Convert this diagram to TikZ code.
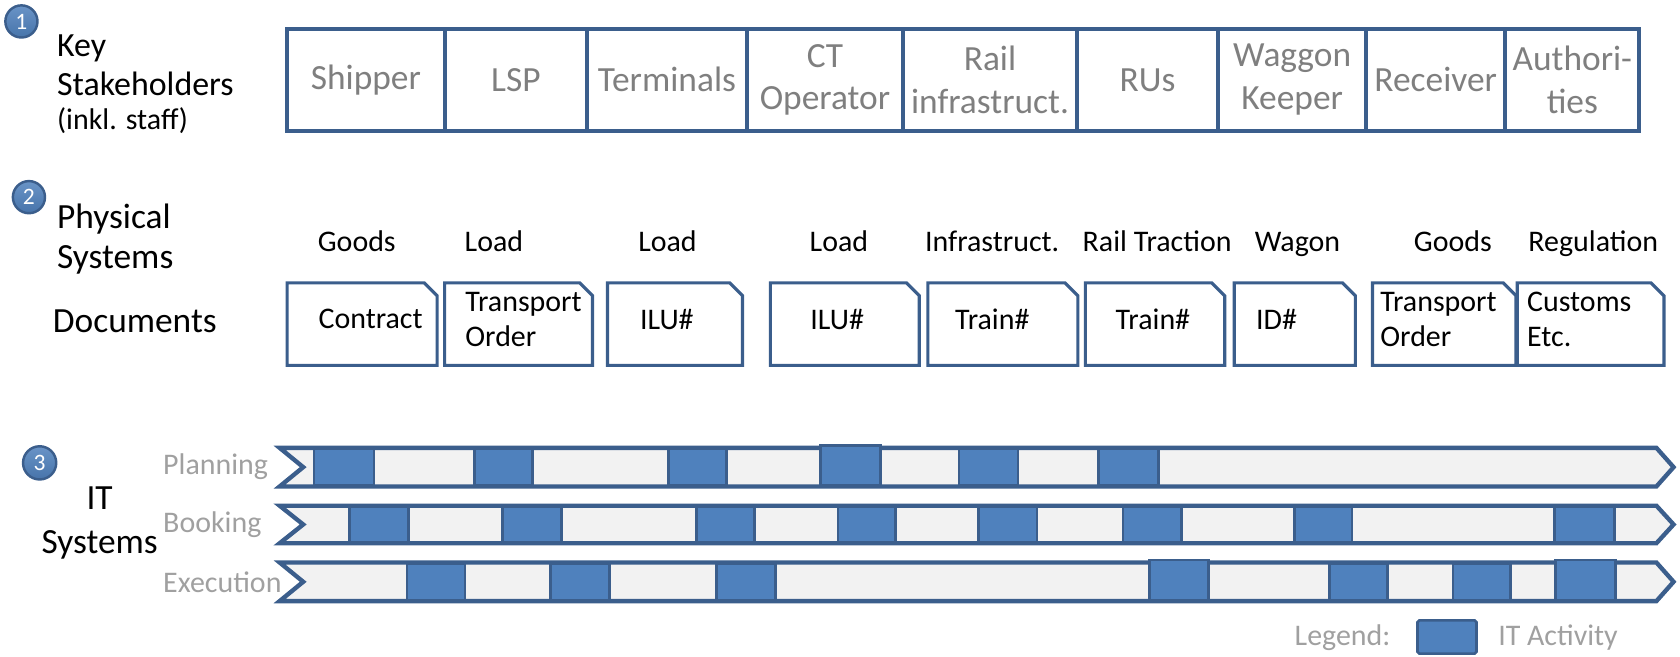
\documentclass[tikz,border=0pt]{standalone}
\usepackage{fontspec}
\setmainfont{Carlito}
\usepackage{tikz}
\usetikzlibrary{arrows.meta, positioning}
\usepackage{xcolor}

\definecolor{frameblue}{HTML}{3B5E8C}
\definecolor{itblue}{HTML}{4F81BD}
\definecolor{barfill}{HTML}{F2F2F2}
\definecolor{stakegray}{HTML}{7F7F7F}
\definecolor{rowgray}{HTML}{A0A0A0}

\newcommand{\headfont}{\fontsize{18.8}{21.6}\selectfont}
\newcommand{\boxfont}{\fontsize{18.8}{22.8}\selectfont}
\newcommand{\docfont}{\fontsize{15.9}{18.8}\selectfont}

\tikzset{
  stakebox/.style={draw=frameblue, line width=2.2pt, inner sep=0pt, outer sep=0pt, text=stakegray, font=\boxfont, align=center},
  docframe/.style={draw=frameblue, line width=1.7pt, fill=white, line join=miter},
  doctext/.style={anchor=west, inner sep=0pt, font=\docfont, align=left},
  phystext/.style={inner sep=0pt, font=\docfont},
  bar/.style={draw=frameblue, fill=barfill, line width=2.3pt, line join=miter},
  activity/.style={draw=frameblue, fill=itblue, line width=1.4pt},
  rowtext/.style={anchor=west, inner sep=0pt, text=rowgray, font=\docfont},
  numball/.style={circle, draw=frameblue, top color=itblue!85!white, bottom color=itblue!90!black, line width=1.3pt, minimum size=0.6cm, inner sep=0pt, text=white, font=\fontsize{12.5}{12.5}\selectfont},
  headtext/.style={anchor=west, inner sep=0pt, align=left},
}

\begin{document}
\begin{tikzpicture}[x=0.02cm, y=-0.02cm]
  \useasboundingbox (0,0) rectangle (1568,613);

  % 1: key stakeholders
  \node[numball] (num1) at (20,20) {1};
  \node[headtext, font=\fontsize{18}{20.5}\selectfont] (keyst) at (53,61) {Key\\Stakeholders};
  \node[headtext, font=\docfont] (inkl) at (53,113) {(inkl. staff)};
  \foreach \l/\r/\t [count=\i] in {268/415/Shipper, 415/548/LSP, 548/697/Terminals, 697/843/{CT\\Operator}, 843/1005/{Rail\\infrastruct.}, 1005/1137/RUs, 1137/1275/{Waggon\\Keeper}, 1275/1405/Receiver, 1405/1530/{Authori-\\ties}}
    \node[stakebox, minimum width={(\r-\l)*0.02cm}, minimum height=95*0.02cm] (stake\i) at ({(\l+\r)/2},74.5) {\t};

  % 2: physical systems and documents
  \node[numball] (num2) at (27,184) {2};
  \node[headtext, font=\headfont] (physys) at (53,223) {Physical\\Systems};
  \node[headtext, font=\headfont] (docs) at (49,300) {Documents};
  \foreach \l/\r/\tx/\t/\lab/\lx [count=\i] in {268/408/297/Contract/Goods/333, 415/553/434/{Transport\\Order}/Load/461, 567/693/597/ILU\#/Load/623, 719/858/756/ILU\#/Load/783, 866/1006/891/Train\#/Infrastruct./926, 1013/1143/1041/Train\#/Rail Traction/1080, 1152/1265/1172/ID\#/Wagon/1211, 1281/1415/1288/{Transport\\Order}/Goods/1356, 1416/1553/1425/{Customs\\Etc.}/Regulation/1487} {
    \draw[docframe] (\l,264) -- (\r-12,264) -- (\r,276) -- (\r,341) -- (\l,341) -- cycle;
    \node[doctext] (doc\i) at (\tx,298) {\t};
    \node[phystext, anchor=base] (phys\i) at (\lx,235) {\lab};
  }

  % 3: IT systems
  \node[numball, minimum size=0.62cm] (num3) at (37,432) {3};
  \node[inner sep=0pt, font=\fontsize{18.8}{23.3}\selectfont, align=center] (itsys) at (93,488) {IT\\Systems};
  \foreach \top/\bot/\name [count=\i] in {416/456/Planning, 470/509/Booking, 523/563/Execution} {
    \draw[bar] (261,\top+2) -- (1546,\top+2) -- (1562,{(\top+\bot)/2}) -- (1546,\bot-2) -- (261,\bot-2) -- (283,{(\top+\bot)/2}) -- cycle;
    \node[rowtext] (row\i) at (152,{(\top+\bot)/2}) {\name};
  }
  \foreach \a/\b in {293/349, 443/497, 624/678, 895/950, 1025/1081}
    \draw[activity] (\a,419) rectangle (\b,453);
  \draw[activity] (766,415.5) rectangle (822,453);
  \foreach \a/\b in {326/381, 469/524, 650/704, 782/836, 913/968, 1048/1103, 1208/1262, 1451/1507}
    \draw[activity] (\a,473) rectangle (\b,506);
  \foreach \a/\b in {380/434, 514/569, 669/724, 1241/1295, 1356/1410}
    \draw[activity] (\a,526) rectangle (\b,560);
  \foreach \a/\b in {1073/1128, 1452/1508}
    \draw[activity] (\a,522.5) rectangle (\b,560);

  % legend
  \node[rowtext] (legend) at (1208,595) {Legend:};
  \draw[activity, rounded corners=1pt] (1323,579) rectangle (1378,610);
  \node[rowtext] (itact) at (1398,595) {IT Activity};
\end{tikzpicture}
\end{document}
